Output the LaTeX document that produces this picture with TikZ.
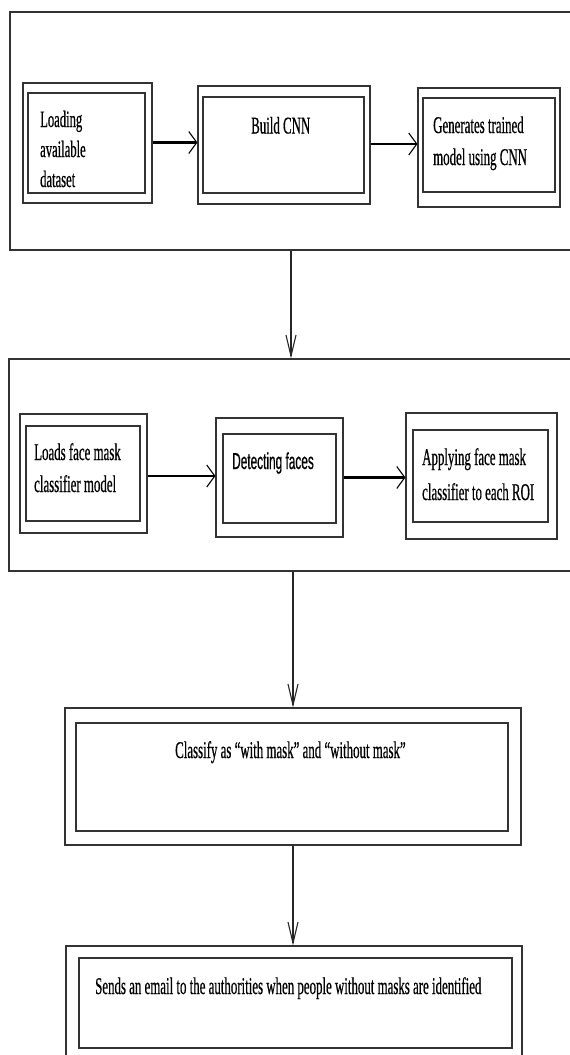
\documentclass[tikz,border=0pt]{standalone}
\usepackage{fontspec}
\newfontfamily\tnr[FakeStretch=0.537,FakeBold=0.5]{Liberation Serif}
\newfontfamily\ari[FakeStretch=0.515,FakeBold=0.5]{Liberation Sans}
\usetikzlibrary{arrows.meta,fit}
\definecolor{linec}{gray}{0.2}
\tikzset{
  frame/.style={draw=linec, line width=1.1pt, rectangle, inner sep=0pt},
  txt/.style={anchor=base west, inner sep=0pt, text=black},
  serif/.style={font=\tnr\fontsize{24pt}{32pt}\selectfont},
  harrow/.style={draw=black, line width=2.2pt, -{Straight Barb[length=8pt,width=22pt,line width=1.1pt]}},
  varrow/.style={draw=black!85, line width=1.1pt, -{Straight Barb[length=21pt,width=10pt,line width=1.1pt]}}
}
\begin{document}
\begin{tikzpicture}[x=1pt,y=-1pt]
\useasboundingbox (0,0) rectangle (570,1055);
\fill[white] (0,0) rectangle (570,1055);
\clip (0,0) rectangle (570,1055);

% ---------- stage 1 ----------
\node[frame, fit={(10,12) (600,250)}] (stage1) {};
\node[frame, fit={(23,83) (152,203)}] (Aout) {};
\node[frame, fit={(28,93) (145,193)}] (Ain) {};
\node[frame, fit={(198,86) (370,204)}] (Bout) {};
\node[frame, fit={(203,97) (364,193)}] (Bin) {};
\node[frame, fit={(418,88) (560,207)}] (Cout) {};
\node[frame, fit={(423,98) (555,192)}] (Cin) {};

\node[txt, font=\tnr\fontsize{23.5pt}{30pt}\selectfont] (tA) at (40,127)
  {\begin{tabular}[t]{@{}l@{}}Loading\\available\\dataset\end{tabular}};
\node[txt, serif] (tB) at (251,133.5) {Build CNN};
\node[txt, serif] (tC) at (433,133)
  {\begin{tabular}[t]{@{}l@{}}Generates trained\\model using CNN\end{tabular}};

\draw[harrow] ([yshift=0.5pt]Aout.east) -- ([yshift=0.5pt]Aout.east -| Bout.west);
\draw[harrow] ([yshift=1pt]Bout.east) -- ([yshift=1pt]Bout.east -| Cout.west);

% ---------- stage 2 ----------
\node[frame, fit={(9,359) (600,571)}] (stage2) {};
\node[frame, fit={(20,414) (147,533)}] (Dout) {};
\node[frame, fit={(26,426) (140,521)}] (Din) {};
\node[frame, fit={(216,418) (343,537)}] (Eout) {};
\node[frame, fit={(223,434) (336,523)}] (Ein) {};
\node[frame, fit={(406,413) (557,539)}] (Fout) {};
\node[frame, fit={(413,430) (548,522)}] (Fin) {};

\node[txt, serif] (tD) at (34,460)
  {\begin{tabular}[t]{@{}l@{}}Loads face mask\\classifier model\end{tabular}};
\node[txt, font=\ari\fontsize{23pt}{30pt}\selectfont] (tE) at (232,469) {Detecting faces};
\node[txt, font=\tnr\fontsize{24pt}{35pt}\selectfont] (tF) at (422,465)
  {\begin{tabular}[t]{@{}l@{}}Applying face mask\\classifier to each ROI\end{tabular}};

\draw[harrow] ([yshift=-2.5pt]Dout.east) -- ([yshift=-2.5pt]Dout.east -| Eout.west);
\draw[harrow] (Eout.east) -- (Eout.east -| Fout.west);

% ---------- stage 3 ----------
\node[frame, fit={(65,708) (521,845)}] (Gout) {};
\node[frame, fit={(76,723) (508,831)}] (Gin) {};
\node[txt, serif] (tG) at (175,758) {Classify as “with mask” and “without mask”};

% ---------- stage 4 ----------
\node[frame, fit={(66,946) (522,1075)}] (Hout) {};
\node[frame, fit={(79,958) (512,1048)}] (Hin) {};
\node[txt, serif] (tH) at (95,994) {Sends an email to the authorities when people without masks are identified};

% ---------- vertical connectors ----------
\draw[varrow] ([xshift=-2pt]Gout.north |- stage1.south) -- ([xshift=-2pt]Gout.north |- stage2.north);
\draw[varrow] (Gout.north |- stage2.south) -- (Gout.north);
\draw[varrow] (Gout.south) -- (Gout.south |- Hout.north);
\end{tikzpicture}
\end{document}
